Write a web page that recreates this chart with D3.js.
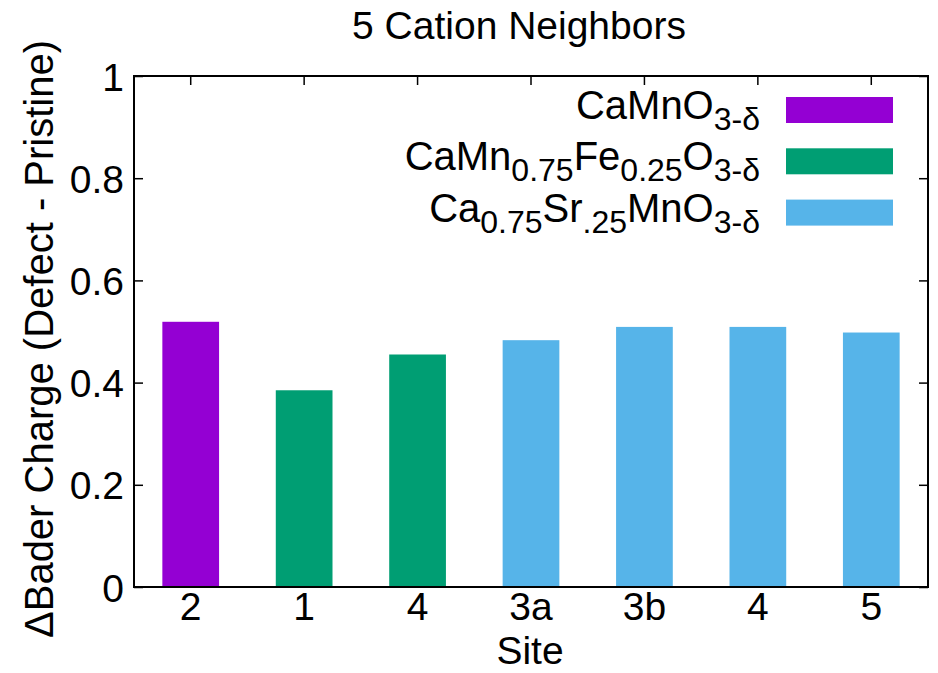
<!DOCTYPE html>
<html>
<head>
<meta charset="utf-8">
<script src="https://cdn.jsdelivr.net/npm/d3@7"></script>
<style>
  body { margin: 0; background: #fff; }
  text { font-family: "Liberation Sans", Arial, Helvetica, sans-serif; fill: #000; }
</style>
</head>
<body>
<div id="chart"></div>
<script>
// Chart data
var sites = ["2", "1", "4", "3a", "3b", "4", "5"];
var charges = [0.519, 0.385, 0.455, 0.483, 0.509, 0.509, 0.498];
var barSeries = [0, 1, 1, 2, 2, 2, 2];   // which compound each bar belongs to
var yTicks = [0, 0.2, 0.4, 0.6, 0.8, 1];
// legend labels, split into [text, isSubscript] pieces
var seriesLabels = [
  [["CaMnO", false], ["3-δ", true]],
  [["CaMn", false], ["0.75", true], ["Fe", false], ["0.25", true], ["O", false], ["3-δ", true]],
  [["Ca", false], ["0.75", true], ["Sr", false], [".25", true], ["MnO", false], ["3-δ", true]]
];
var seriesColors = ["#9400d3", "#009e73", "#56b4e9"];

// svg size
var svgWidth = 938;
var svgHeight = 673;

// plot box
var margin = { top: 76, right: 10, bottom: 86, left: 134 };
var chartWidth = svgWidth - margin.left - margin.right;
var chartHeight = svgHeight - margin.top - margin.bottom;

var svg = d3.select("#chart")
  .append("svg")
  .attr("width", svgWidth)
  .attr("height", svgHeight);

var chartGroup = svg.append("g")
  .attr("transform", `translate(${margin.left}, ${margin.top})`);

// scales
var xScale = d3.scaleBand()
  .domain(d3.range(sites.length))
  .range([0, chartWidth])
  .paddingInner(0.5)
  .paddingOuter(0.25);

var yScale = d3.scaleLinear()
  .domain([0, 1])
  .range([chartHeight, 0]);

var tickLen = 9;
var fontSize = 39;
var legendSize = 40;
var subSize = 32;

// left axis (ticks inside, labels outside)
var leftAxis = d3.axisLeft(yScale)
  .tickValues(yTicks)
  .tickSize(-tickLen)
  .tickFormat(d3.format("~g"));

var yAxisG = chartGroup.append("g").call(leftAxis);
yAxisG.select(".domain").remove();
yAxisG.selectAll("text")
  .attr("font-size", fontSize)
  .attr("font-family", null)
  .attr("x", -10)
  .attr("dy", "0.36em");
yAxisG.selectAll("line").attr("stroke", "#000").attr("stroke-width", 1.5);

// right mirror ticks
var rightAxis = d3.axisRight(yScale).tickValues(yTicks).tickSize(-tickLen).tickFormat("");
var rightG = chartGroup.append("g")
  .attr("transform", `translate(${chartWidth}, 0)`)
  .call(rightAxis);
rightG.select(".domain").remove();
rightG.selectAll("line").attr("stroke", "#000").attr("stroke-width", 1.5);

// top mirror ticks at bar centers
var topAxis = d3.axisTop(xScale).tickSize(-tickLen).tickFormat("");
var topG = chartGroup.append("g").call(topAxis);
topG.select(".domain").remove();
topG.selectAll("line").attr("stroke", "#000").attr("stroke-width", 1.5);

// bottom axis
var bottomAxis = d3.axisBottom(xScale)
  .tickSize(-tickLen)
  .tickFormat(i => sites[i]);
var xAxisG = chartGroup.append("g")
  .attr("transform", `translate(0, ${chartHeight})`)
  .call(bottomAxis);
xAxisG.select(".domain").remove();
xAxisG.selectAll("line").attr("stroke", "#000").attr("stroke-width", 1.5);
xAxisG.selectAll("text")
  .attr("font-size", fontSize)
  .attr("font-family", null)
  .attr("y", 33)
  .attr("dy", null);

// bars
chartGroup.selectAll(".bar")
  .data(charges)
  .enter()
  .append("rect")
  .attr("class", "bar")
  .attr("x", (d, i) => xScale(i))
  .attr("width", xScale.bandwidth())
  .attr("y", d => yScale(d))
  .attr("height", d => chartHeight - yScale(d))
  .attr("fill", (d, i) => seriesColors[barSeries[i]]);

// frame
chartGroup.append("rect")
  .attr("width", chartWidth)
  .attr("height", chartHeight)
  .attr("fill", "none")
  .attr("stroke", "#000")
  .attr("stroke-width", 2);

// legend
var legendRow = 51.3;
var legend = chartGroup.selectAll(".legend")
  .data(seriesLabels)
  .enter()
  .append("g")
  .attr("class", "legend")
  .attr("transform", (d, i) => `translate(0, ${34 + i * legendRow})`);

legend.append("rect")
  .attr("x", 652)
  .attr("y", -13)
  .attr("width", 107)
  .attr("height", 26)
  .attr("fill", (d, i) => seriesColors[i]);

legend.append("text")
  .attr("x", 626)
  .attr("y", 9)
  .attr("text-anchor", "end")
  .attr("font-size", legendSize)
  .each(function(parts) {
    var t = d3.select(this);
    var shifted = false;
    parts.forEach(function(p) {
      var span = t.append("tspan").text(p[0]);
      if (p[1] && !shifted) { span.attr("dy", 11).attr("font-size", subSize); shifted = true; }
      else if (p[1]) { span.attr("font-size", subSize); }
      else if (shifted) { span.attr("dy", -11); shifted = false; }
    });
  });

// title
svg.append("text")
  .attr("x", 519)
  .attr("y", 39)
  .attr("text-anchor", "middle")
  .attr("font-size", fontSize)
  .text("5 Cation Neighbors");

// x label
svg.append("text")
  .attr("x", 530)
  .attr("y", 664)
  .attr("text-anchor", "middle")
  .attr("font-size", fontSize)
  .text("Site");

// y label
svg.append("text")
  .attr("transform", "rotate(-90)")
  .attr("x", -339)
  .attr("y", 53)
  .attr("text-anchor", "middle")
  .attr("font-size", 40)
  .text("ΔBader Charge (Defect - Pristine)");
</script>
</body>
</html>
